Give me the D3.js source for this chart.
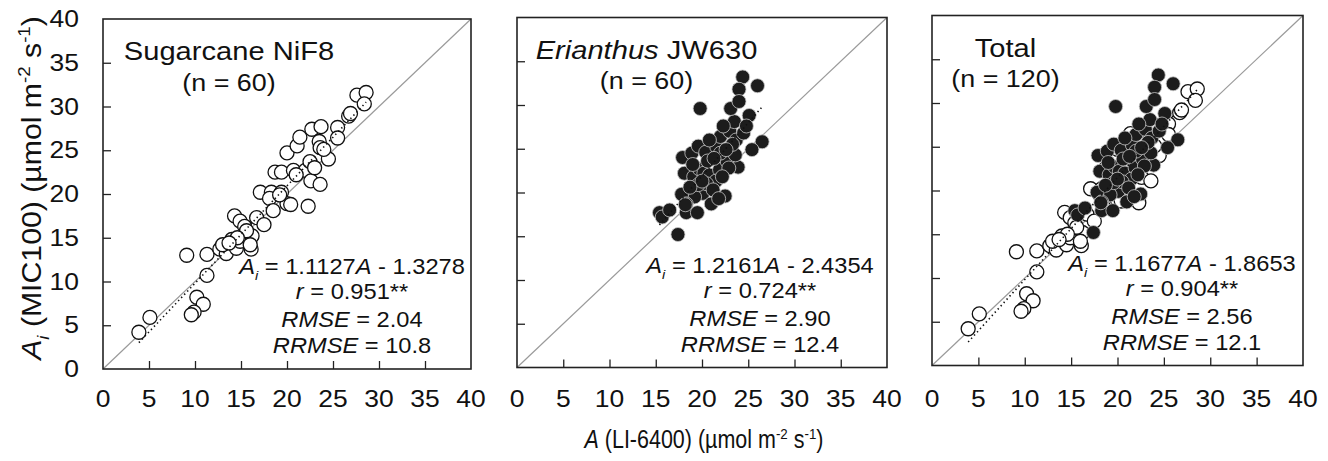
<!DOCTYPE html>
<html>
<head>
<meta charset="utf-8">
<script src="https://cdn.jsdelivr.net/npm/d3@7"></script>
<style>
  body { margin: 0; background: #fff; }
</style>
</head>
<body>
<svg id="chart" width="1328" height="461"></svg>
<script>
// Net photosynthetic rate: LI-6400 reference (A) vs MIC100 estimate (Ai), µmol m-2 s-1
const sugarA  = [3.9, 5.1, 9.1, 11.3, 11.3, 10.2, 10.9, 9.9, 9.6, 12.7,
                 13.4, 14.0, 14.5, 14.9, 14.3, 14.9, 15.4, 16.2, 16.1, 16.7,
                 15.6, 17.1, 18.3, 18.1, 18.5, 19.4, 20.0, 20.4, 22.3, 18.7,
                 19.4, 20.7, 22.0, 22.5, 22.6, 23.6, 20.0, 21.1, 21.4, 22.7,
                 23.7, 23.5, 23.6, 24.5, 25.5, 25.5, 26.7, 26.9, 27.6, 28.6,
                 28.4, 13.0, 14.6, 16.0, 19.2, 21.0, 24.0, 17.5, 13.7, 23.0];
const sugarAi = [4.2, 5.9, 13.0, 13.1, 10.7, 8.2, 7.4, 6.5, 6.2, 13.7,
                 13.2, 14.8, 13.8, 14.6, 17.5, 16.9, 16.3, 15.2, 13.7, 17.3,
                 15.8, 20.2, 20.2, 19.5, 18.1, 20.2, 18.9, 18.8, 18.6, 22.5,
                 22.5, 22.7, 22.7, 23.7, 21.5, 21.1, 24.7, 25.5, 26.5, 27.4,
                 27.7, 26.0, 25.3, 24.0, 27.6, 26.4, 28.9, 29.2, 31.3, 31.6,
                 30.3, 14.2, 15.0, 14.2, 19.9, 22.2, 25.1, 16.5, 14.4, 23.0];

const erianA  = [15.4, 15.7, 17.4, 17.9, 18.1, 18.9, 19.6, 19.8, 20.4, 19.1,
                 19.7, 20.2, 20.8, 20.6, 21.6, 21.9, 21.5, 20.1, 19.2, 17.8,
                 18.3, 18.3, 19.5, 21.0, 22.5, 23.0, 23.9, 22.7, 22.0, 23.0,
                 23.5, 23.1, 22.3, 23.7, 24.5, 25.1, 24.4, 24.0, 26.0, 26.5,
                 25.4, 22.9, 18.2, 20.5, 21.2, 22.2, 19.0, 23.6, 24.8, 22.0,
                 20.8, 16.5, 19.6, 21.3, 23.3, 24.0, 20.0, 18.7, 21.8, 22.6];
const erianAi = [17.7, 17.2, 15.2, 24.0, 22.2, 24.5, 25.3, 29.6, 24.6, 21.8,
                 22.7, 22.2, 22.0, 23.6, 25.2, 22.6, 21.3, 19.9, 19.5, 19.8,
                 18.7, 17.7, 17.7, 18.7, 19.6, 23.7, 22.9, 23.6, 26.4, 27.0,
                 28.1, 29.6, 27.6, 26.0, 26.8, 28.8, 33.2, 31.8, 32.2, 25.8,
                 24.9, 22.8, 18.6, 21.0, 20.3, 21.8, 23.2, 24.3, 27.6, 24.5,
                 26.0, 18.0, 20.9, 23.9, 25.5, 30.4, 21.3, 20.6, 19.3, 24.9];

const panelTitles = ["Sugarcane NiF8", "Erianthus JW630", "Total"];
const panelN      = [60, 60, 120];
const slopes      = [1.1127, 1.2161, 1.1677];
const intercepts  = [-1.3278, -2.4354, -1.8653];
const rValues     = ["0.951", "0.724", "0.904"];
const rmseValues  = ["2.04", "2.90", "2.56"];
const rrmseValues = ["10.8", "12.4", "12.1"];
const axisTicks   = [0, 5, 10, 15, 20, 25, 30, 35, 40];

const FONT = "'Liberation Sans', Arial, Helvetica, sans-serif";
const svg = d3.select("#chart");

// Text with italic / sub / superscript runs; sx scales glyph width along the text direction
function rich(parent, parts, o) {
  const t = parent.append("text")
    .attr("transform", `translate(${o.x},${o.y}) rotate(${o.rot || 0}) scale(${o.sx || 1},1)`)
    .attr("text-anchor", o.anchor || "start")
    .attr("font-size", o.size)
    .attr("font-family", FONT)
    .attr("fill", "#111");
  let shift = 0;
  parts.forEach(p => {
    const s = typeof p === "string" ? { t: p } : p;
    const ts = t.append("tspan").text(s.t);
    if (s.i) ts.attr("font-style", "italic");
    let target = 0;
    if (s.sub) target = o.size * 0.28;
    if (s.sup) target = -o.size * 0.38;
    if (s.sub || s.sup) ts.attr("font-size", o.size * 0.62);
    if (target !== shift) { ts.attr("dy", target - shift); shift = target; }
  });
  return t;
}

const panels = [
  { left: 103, top: 19.0, w: 368, h: 350, titleX: 126, statX: 249 },
  { left: 517, top: 17.5, w: 370, h: 350, titleX: 129.5, statX: 243 },
  { left: 932, top: 15.5, w: 371, h: 350, titleX: 73.5, statX: 250 }
];

const sugarPts = sugarA.map((a, i) => ({ a, ai: sugarAi[i], filled: false }));
const erianPts = erianA.map((a, i) => ({ a, ai: erianAi[i], filled: true }));
const panelData = [sugarPts, erianPts, sugarPts.concat(erianPts)];

panels.forEach((p, k) => {
  const g = svg.append("g").attr("transform", `translate(${p.left},${p.top})`);
  const x = d3.scaleLinear().domain([0, 40]).range([0, p.w]);
  const y = d3.scaleLinear().domain([0, 40]).range([p.h, 0]);

  // 1:1 line
  g.append("line")
    .attr("x1", x(0)).attr("y1", y(0)).attr("x2", x(40)).attr("y2", y(40))
    .attr("stroke", "#9a9a9a").attr("stroke-width", 1.2);

  // inward ticks
  g.append("g").attr("transform", `translate(0,${p.h})`)
    .call(d3.axisBottom(x).tickValues(axisTicks.slice(1, -1)).tickSize(-8).tickFormat(""))
    .call(a => a.select(".domain").remove())
    .selectAll("line").attr("stroke", "#222").attr("stroke-width", 1.3);
  g.append("g")
    .call(d3.axisLeft(y).tickValues(axisTicks.slice(1, -1)).tickSize(-8).tickFormat(""))
    .call(a => a.select(".domain").remove())
    .selectAll("line").attr("stroke", "#222").attr("stroke-width", 1.3);

  // points: open sugarcane first, filled Erianthus on top
  const pts = panelData[k];
  g.append("g").selectAll("circle").data(pts).join("circle")
    .attr("cx", d => x(d.a)).attr("cy", d => y(d.ai)).attr("r", 7)
    .attr("fill", d => d.filled ? "#1c1c1c" : "#fff")
    .attr("stroke", d => d.filled ? "#c8c8c8" : "#111")
    .attr("stroke-width", d => d.filled ? 0.8 : 1.3);

  // regression line over the observed A range
  const ext = d3.extent(pts, d => d.a);
  g.append("line")
    .attr("x1", x(ext[0])).attr("y1", y(slopes[k] * ext[0] + intercepts[k]))
    .attr("x2", x(ext[1])).attr("y2", y(slopes[k] * ext[1] + intercepts[k]))
    .attr("stroke", "#111").attr("stroke-width", 1.6)
    .attr("stroke-dasharray", "1.4,3");

  // frame
  g.append("rect").attr("x", 0).attr("y", 0).attr("width", p.w).attr("height", p.h)
    .attr("fill", "none").attr("stroke", "#222").attr("stroke-width", 1.6);

  // titles
  const titleParts = k === 1 ? [{ t: "Erianthus", i: true }, " JW630"] : [panelTitles[k]];
  rich(g, titleParts, { x: p.titleX, y: 41, size: 26, sx: 1.12, anchor: "middle" });
  rich(g, [`(n = ${panelN[k]})`], { x: p.titleX, y: 71.5, size: 24, sx: 1.12, anchor: "middle" });

  // fit statistics
  const sx = 1.1, fs = 21.5;
  rich(g, [{ t: "A", i: true }, { t: "i", i: true, sub: true }, ` = ${slopes[k].toFixed(4)}`,
           { t: "A", i: true }, ` - ${Math.abs(intercepts[k]).toFixed(4)}`],
       { x: p.statX, y: p.h - 95, size: fs, sx, anchor: "middle" });
  rich(g, [{ t: "r", i: true }, ` = ${rValues[k]}**`],
       { x: p.statX, y: p.h - 70, size: fs, sx, anchor: "middle" });
  rich(g, [{ t: "RMSE", i: true }, ` = ${rmseValues[k]}`],
       { x: p.statX, y: p.h - 42, size: fs, sx, anchor: "middle" });
  rich(g, [{ t: "RRMSE", i: true }, ` = ${rrmseValues[k]}`],
       { x: p.statX, y: p.h - 16, size: fs, sx, anchor: "middle" });

  // x tick labels
  axisTicks.forEach(v => {
    rich(g, [String(v)], { x: x(v), y: 406.5 - p.top, size: 23, sx: 1.15, anchor: "middle" });
  });
  // y tick labels only on the first panel
  if (k === 0) {
    axisTicks.forEach(v => {
      rich(g, [String(v)], { x: -24, y: y(v) + 8, size: 23, sx: 1.15, anchor: "end" });
    });
  }
});

// axis titles
rich(svg, [{ t: "A", i: true }, " (LI-6400) (µmol m", { t: "-2", sup: true }, " s", { t: "-1", sup: true }, ")"],
     { x: 704, y: 448, size: 25, sx: 0.86, anchor: "middle" });
rich(svg, [{ t: "A", i: true }, { t: "i", i: true, sub: true }, " (MIC100) (µmol m", { t: "-2", sup: true },
           " s", { t: "-1", sup: true }, ")"],
     { x: 41, y: 188, size: 28, sx: 1.08, rot: -90, anchor: "middle" });
</script>
</body>
</html>
